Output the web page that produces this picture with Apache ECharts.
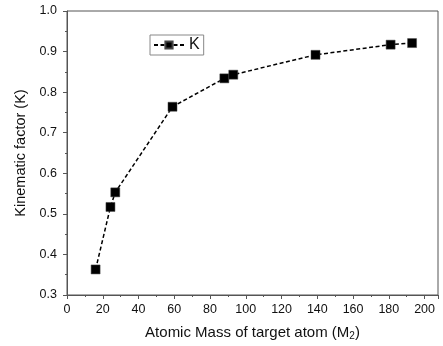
<!DOCTYPE html>
<html>
<head>
<meta charset="utf-8">
<script src="https://cdn.jsdelivr.net/npm/echarts@6/dist/echarts.min.js"></script>
<style>
  html, body { margin: 0; padding: 0; background: #fff; }
  #chart { width: 443px; height: 346px; }
</style>
</head>
<body>
<div id="chart"></div>
<script>
// atomic mass of target atom (M2)
var masses = [16, 24.3, 27, 59, 88, 93, 139, 181, 193];
// kinematic factor K
var kValues = [0.363, 0.517, 0.553, 0.764, 0.834, 0.843, 0.892, 0.917, 0.921];

var chart = echarts.init(document.getElementById('chart'));
var font = 'Liberation Sans, Arial, sans-serif';

chart.setOption({
  animation: false,
  grid: {
    left: 67, right: 5, top: 11, bottom: 49,
    show: true, borderColor: '#555', borderWidth: 1
  },
  legend: {
    left: 150, top: 35,
    padding: [2, 4, 2, 3],
    borderColor: '#888', borderWidth: 1,
    itemWidth: 30, itemHeight: 9,
    textStyle: { fontFamily: font, fontSize: 16, color: '#111' },
    data: ['K']
  },
  xAxis: {
    type: 'value',
    min: 0, max: 207.5, interval: 20,
    name: 'Atomic Mass of target atom (M{sub|2})',
    nameLocation: 'middle', nameGap: 29,
    nameTextStyle: {
      fontFamily: font, fontSize: 15, color: '#111',
      rich: { sub: { fontFamily: font, fontSize: 10, verticalAlign: 'bottom', padding: [7, 0, 0, 0] } }
    },
    axisLine: { lineStyle: { color: '#555' } },
    axisTick: { inside: false, length: 4, lineStyle: { color: '#555' } },
    minorTick: { show: true, splitNumber: 2, length: 2, lineStyle: { color: '#555' } },
    axisLabel: {
      fontFamily: font, fontSize: 12.5, color: '#111', margin: 8,
      formatter: function (v) { return v > 200 ? '' : v; }
    },
    splitLine: { show: false }
  },
  yAxis: {
    type: 'value',
    min: 0.3, max: 1.0, interval: 0.1,
    name: 'Kinematic factor (K)',
    nameLocation: 'middle', nameGap: 34,
    nameTextStyle: { fontFamily: font, fontSize: 14.5, color: '#111' },
    axisLine: { lineStyle: { color: '#555' } },
    axisTick: { inside: false, length: 4, lineStyle: { color: '#555' } },
    minorTick: { show: true, splitNumber: 2, length: 2, lineStyle: { color: '#555' } },
    axisLabel: {
      fontFamily: font, fontSize: 12.5, color: '#111', margin: 10,
      formatter: function (v) { return v.toFixed(1); }
    },
    splitLine: { show: false }
  },
  series: [{
    name: 'K',
    type: 'line',
    data: masses.map(function (m, i) { return [m, kValues[i]]; }),
    symbol: 'rect',
    symbolSize: 9,
    itemStyle: { color: '#000', borderColor: '#444', borderWidth: 0.5 },
    lineStyle: { color: '#000', width: 1.5, type: [4, 2.5] }
  }]
});
</script>
</body>
</html>
